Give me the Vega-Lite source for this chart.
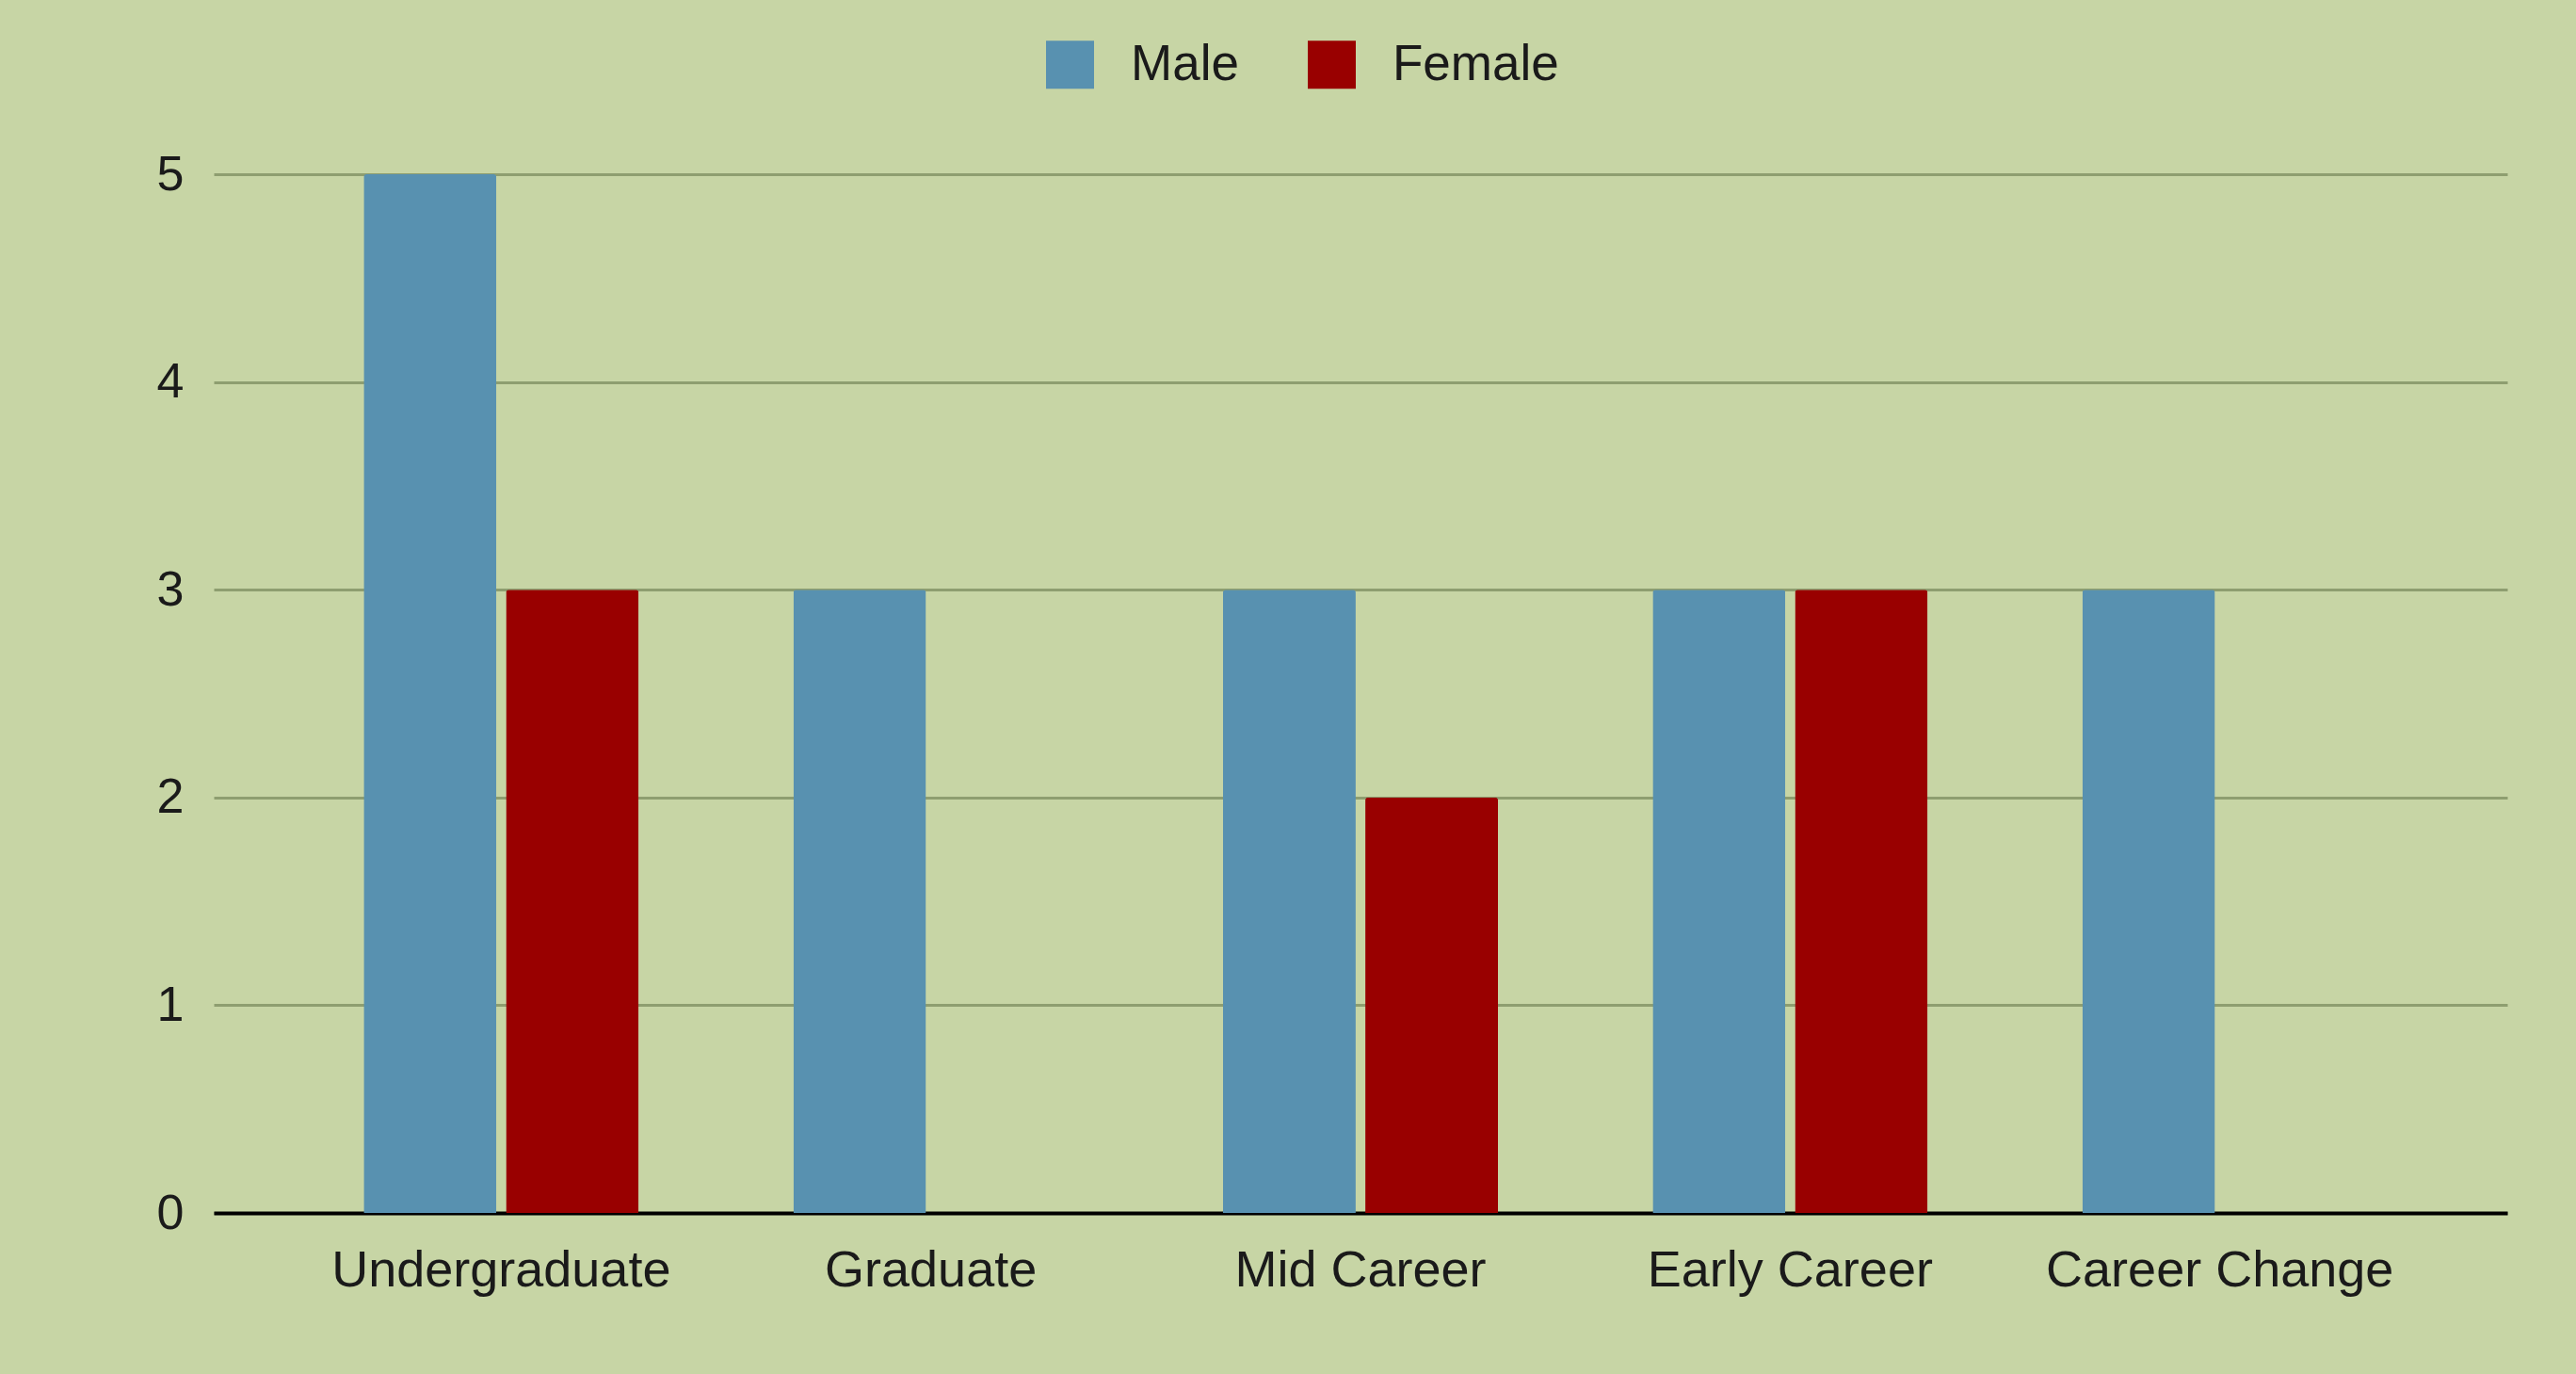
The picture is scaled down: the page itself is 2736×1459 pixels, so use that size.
{
  "$schema": "https://vega.github.io/schema/vega-lite/v6.json",
  "autosize": {"type": "none"},
  "padding": {"left": 227, "top": 185, "right": 73, "bottom": 171},
  "width": 2436,
  "height": 1103,
  "background": "#C7D5A5",
  "data": {
    "values": [
      {"stage": "Undergraduate", "gender": "Male", "count": 5},
      {"stage": "Undergraduate", "gender": "Female", "count": 3},
      {"stage": "Graduate", "gender": "Male", "count": 3},
      {"stage": "Graduate", "gender": "Female", "count": 0},
      {"stage": "Mid Career", "gender": "Male", "count": 3},
      {"stage": "Mid Career", "gender": "Female", "count": 2},
      {"stage": "Early Career", "gender": "Male", "count": 3},
      {"stage": "Early Career", "gender": "Female", "count": 3},
      {"stage": "Career Change", "gender": "Male", "count": 3},
      {"stage": "Career Change", "gender": "Female", "count": 0}
    ]
  },
  "mark": {"type": "bar", "cornerRadiusTopLeft": 3, "cornerRadiusTopRight": 3},
  "encoding": {
    "x": {
      "field": "stage",
      "type": "nominal",
      "sort": null,
      "scale": {"paddingInner": 0.36, "paddingOuter": 0.349},
      "axis": {
        "title": null,
        "labelAngle": 0,
        "ticks": false,
        "domain": true,
        "domainColor": "#000000",
        "domainWidth": 4,
        "labelPadding": 34,
        "labelFontSize": 54,
        "labelFont": "Liberation Sans",
        "labelColor": "#1a1a1a",
        "labelLimit": 0,
        "grid": false
      }
    },
    "xOffset": {
      "field": "gender",
      "type": "nominal",
      "sort": ["Male", "Female"],
      "scale": {"paddingInner": 0.067, "paddingOuter": 0}
    },
    "y": {
      "field": "count",
      "type": "quantitative",
      "scale": {"domain": [0, 5], "nice": false},
      "axis": {
        "title": null,
        "values": [0, 1, 2, 3, 4, 5],
        "ticks": false,
        "domain": false,
        "grid": true,
        "gridColor": "#8E9E70",
        "gridWidth": 3,
        "labelPadding": 32,
        "labelFontSize": 52,
        "labelFont": "Liberation Sans",
        "labelColor": "#1a1a1a"
      }
    },
    "color": {
      "field": "gender",
      "type": "nominal",
      "sort": ["Male", "Female"],
      "scale": {"domain": ["Male", "Female"], "range": ["#5891B0", "#990000"]},
      "legend": {
        "title": null,
        "orient": "none",
        "direction": "horizontal",
        "legendX": 883,
        "legendY": -143,
        "symbolType": "square",
        "symbolSize": 2600,
        "symbolStrokeWidth": 0,
        "symbolOpacity": 1,
        "labelFontSize": 53,
        "labelFont": "Liberation Sans",
        "labelColor": "#1a1a1a",
        "labelLimit": 0,
        "labelOffset": 38,
        "columnPadding": 72
      }
    }
  },
  "config": {"view": {"stroke": null}}
}
